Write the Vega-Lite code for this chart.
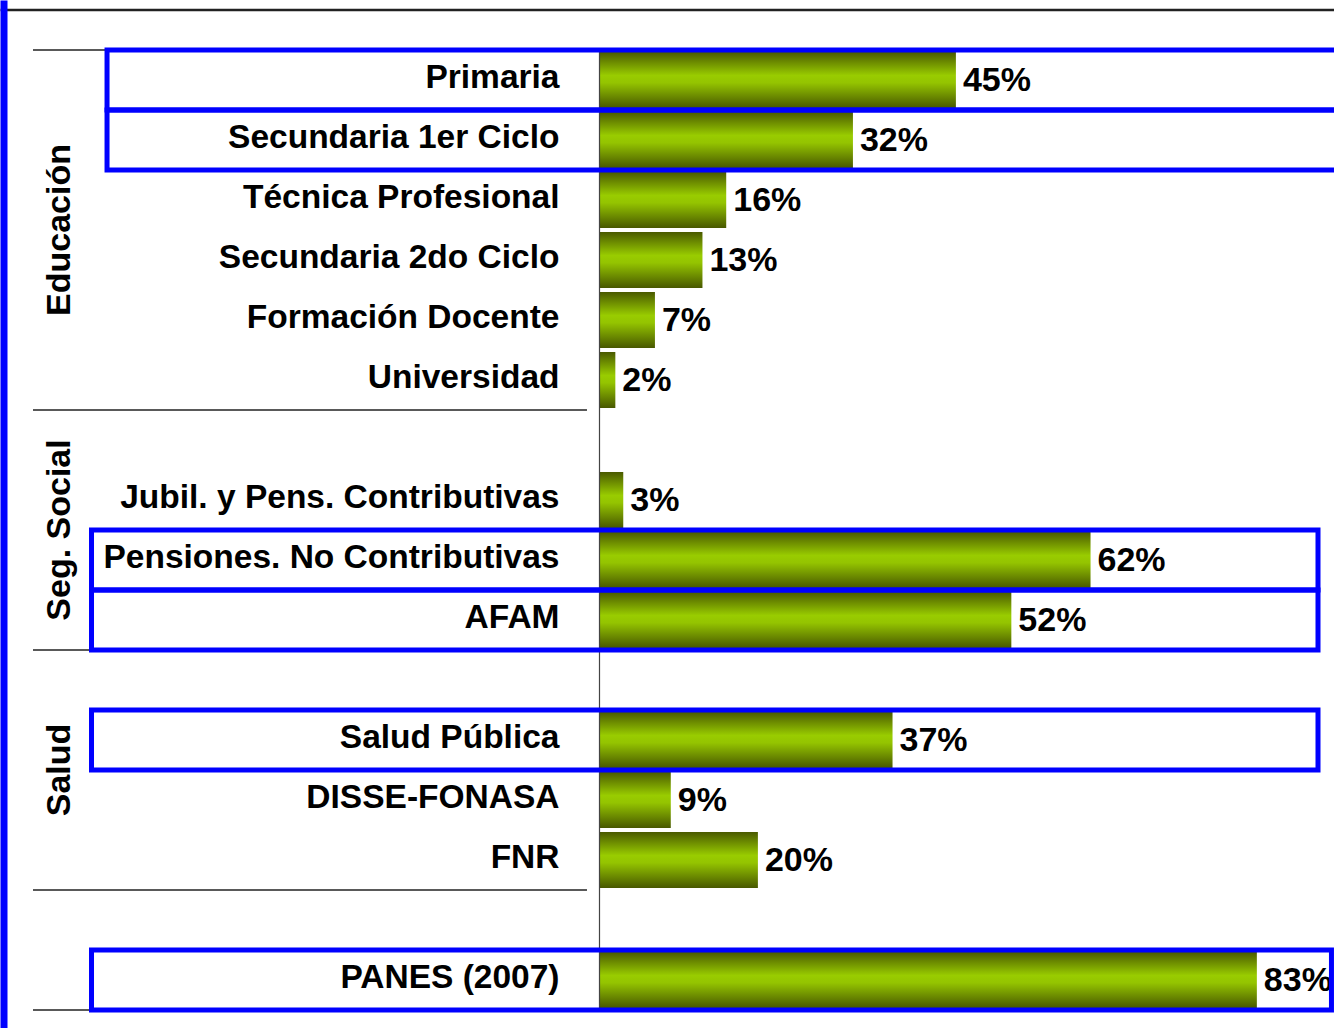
{
  "$schema": "https://vega.github.io/schema/vega-lite/v6.json",
  "width": 1334,
  "height": 1028,
  "autosize": {"type": "none"},
  "padding": 0,
  "background": "white",
  "config": {"view": {"stroke": null}},
  "data": {
    "values": [
      {"categoria": "Primaria", "grupo": "Educación", "valor": 0.45, "destacado": true},
      {"categoria": "Secundaria 1er Ciclo", "grupo": "Educación", "valor": 0.32, "destacado": true},
      {"categoria": "Técnica Profesional", "grupo": "Educación", "valor": 0.16, "destacado": false},
      {"categoria": "Secundaria 2do Ciclo", "grupo": "Educación", "valor": 0.13, "destacado": false},
      {"categoria": "Formación Docente", "grupo": "Educación", "valor": 0.07, "destacado": false},
      {"categoria": "Universidad", "grupo": "Educación", "valor": 0.02, "destacado": false},
      {"categoria": "Jubil. y Pens. Contributivas", "grupo": "Seg. Social", "valor": 0.03, "destacado": false},
      {"categoria": "Pensiones. No Contributivas", "grupo": "Seg. Social", "valor": 0.62, "destacado": true},
      {"categoria": "AFAM", "grupo": "Seg. Social", "valor": 0.52, "destacado": true},
      {"categoria": "Salud Pública", "grupo": "Salud", "valor": 0.37, "destacado": true},
      {"categoria": "DISSE-FONASA", "grupo": "Salud", "valor": 0.09, "destacado": false},
      {"categoria": "FNR", "grupo": "Salud", "valor": 0.20, "destacado": false},
      {"categoria": "PANES (2007)", "grupo": "PANES", "valor": 0.83, "destacado": true}
    ]
  },
  "layer": [
    {
      "mark": {
        "type": "bar",
        "height": {"band": 0.933},
        "color": {
          "gradient": "linear", "x1": 0, "y1": 0, "x2": 0, "y2": 1,
          "stops": [
            {"offset": 0, "color": "#4a5a00"},
            {"offset": 0.42, "color": "#99cc00"},
            {"offset": 0.55, "color": "#94c400"},
            {"offset": 1, "color": "#485800"}
          ]
        }
      },
      "encoding": {
        "x": {
          "field": "valor", "type": "quantitative",
          "scale": {"domain": [-0.75694, 0.9274], "nice": false, "zero": false},
          "axis": {"orient": "top", "offset": -9.5, "domain": true, "domainColor": "#222222", "domainWidth": 2.5, "labels": false, "ticks": false, "grid": false, "title": null}
        },
        "y": {
          "field": "categoria", "type": "nominal",
          "scale": {
            "type": "band",
            "domain": ["Primaria", "Secundaria 1er Ciclo", "Técnica Profesional", "Secundaria 2do Ciclo", "Formación Docente", "Universidad", "sep1", "Jubil. y Pens. Contributivas", "Pensiones. No Contributivas", "AFAM", "sep2", "Salud Pública", "DISSE-FONASA", "FNR", "sep3", "PANES (2007)"],
            "paddingInner": 0, "paddingOuter": 0.5667, "align": 0.735
          },
          "axis": {"orient": "left", "offset": -3.5, "domain": true, "domainColor": "#0000ff", "domainWidth": 7, "labels": false, "ticks": false, "grid": false, "title": null}
        }
      }
    },
    {
      "mark": {"type": "text", "align": "left", "baseline": "middle", "dx": 7, "dy": 1, "font": "Liberation Sans", "fontSize": 34, "fontWeight": "bold", "color": "#000000"},
      "encoding": {
        "x": {"field": "valor", "type": "quantitative", "axis": {"orient": "top", "offset": -9.5, "domain": true, "domainColor": "#222222", "domainWidth": 2.5, "labels": false, "ticks": false, "grid": false, "title": null}},
        "y": {"field": "categoria", "type": "nominal", "axis": {"orient": "left", "offset": -3.5, "domain": true, "domainColor": "#0000ff", "domainWidth": 7, "labels": false, "ticks": false, "grid": false, "title": null}},
        "text": {"field": "valor", "type": "quantitative", "format": ".0%"}
      }
    },
    {
      "mark": {"type": "text", "align": "right", "baseline": "middle", "dy": -2, "font": "Liberation Sans", "fontSize": 33.5, "fontWeight": "bold", "color": "#000000"},
      "encoding": {
        "x": {"datum": -0.0505, "type": "quantitative", "axis": {"orient": "top", "offset": -9.5, "domain": true, "domainColor": "#222222", "domainWidth": 2.5, "labels": false, "ticks": false, "grid": false, "title": null}},
        "y": {"field": "categoria", "type": "nominal", "axis": {"orient": "left", "offset": -3.5, "domain": true, "domainColor": "#0000ff", "domainWidth": 7, "labels": false, "ticks": false, "grid": false, "title": null}},
        "text": {"field": "categoria", "type": "nominal"}
      }
    },
    {
      "transform": [{"filter": {"field": "categoria", "oneOf": ["Técnica Profesional", "Jubil. y Pens. Contributivas", "Salud Pública"]}}],
      "mark": {"type": "text", "align": "center", "baseline": "middle", "angle": 270, "font": "Liberation Sans", "fontSize": 34, "fontWeight": "bold", "color": "#000000"},
      "encoding": {
        "x": {"datum": -0.6812, "type": "quantitative", "axis": {"orient": "top", "offset": -9.5, "domain": true, "domainColor": "#222222", "domainWidth": 2.5, "labels": false, "ticks": false, "grid": false, "title": null}},
        "y": {"field": "categoria", "type": "nominal", "bandPosition": 1, "axis": {"orient": "left", "offset": -3.5, "domain": true, "domainColor": "#0000ff", "domainWidth": 7, "labels": false, "ticks": false, "grid": false, "title": null}},
        "text": {"field": "grupo", "type": "nominal"}
      }
    },
    {
      "transform": [{"filter": {"field": "categoria", "oneOf": ["Universidad", "AFAM", "FNR", "PANES (2007)"]}}],
      "mark": {"type": "rule", "color": "#222222", "strokeWidth": 1.3},
      "encoding": {
        "x": {"datum": -0.7153, "type": "quantitative", "axis": {"orient": "top", "offset": -9.5, "domain": true, "domainColor": "#222222", "domainWidth": 2.5, "labels": false, "ticks": false, "grid": false, "title": null}},
        "x2": {"datum": -0.0158},
        "y": {"field": "categoria", "type": "nominal", "bandPosition": 1, "axis": {"orient": "left", "offset": -3.5, "domain": true, "domainColor": "#0000ff", "domainWidth": 7, "labels": false, "ticks": false, "grid": false, "title": null}}
      }
    },
    {
      "transform": [{"filter": {"field": "categoria", "equal": "Primaria"}}],
      "mark": {"type": "rule", "color": "#222222", "strokeWidth": 1.3},
      "encoding": {
        "x": {"datum": -0.7153, "type": "quantitative", "axis": {"orient": "top", "offset": -9.5, "domain": true, "domainColor": "#222222", "domainWidth": 2.5, "labels": false, "ticks": false, "grid": false, "title": null}},
        "x2": {"datum": -0.0158},
        "y": {"field": "categoria", "type": "nominal", "bandPosition": 0, "axis": {"orient": "left", "offset": -3.5, "domain": true, "domainColor": "#0000ff", "domainWidth": 7, "labels": false, "ticks": false, "grid": false, "title": null}}
      }
    },
    {
      "transform": [{"filter": {"field": "categoria", "equal": "Primaria"}}],
      "mark": {"type": "rule", "color": "#444444", "strokeWidth": 1.2},
      "encoding": {
        "x": {"datum": 0, "type": "quantitative", "axis": {"orient": "top", "offset": -9.5, "domain": true, "domainColor": "#222222", "domainWidth": 2.5, "labels": false, "ticks": false, "grid": false, "title": null}},
        "y": {"datum": "Primaria", "type": "nominal", "bandPosition": 0, "axis": {"orient": "left", "offset": -3.5, "domain": true, "domainColor": "#0000ff", "domainWidth": 7, "labels": false, "ticks": false, "grid": false, "title": null}},
        "y2": {"datum": "PANES (2007)", "bandPosition": 1}
      }
    },
    {
      "transform": [{"filter": "datum.destacado && datum.grupo == 'Educación'"}],
      "mark": {"type": "rect", "fill": "transparent", "stroke": "#0000ff", "strokeWidth": 5},
      "encoding": {
        "x": {"datum": -0.6218, "type": "quantitative", "axis": {"orient": "top", "offset": -9.5, "domain": true, "domainColor": "#222222", "domainWidth": 2.5, "labels": false, "ticks": false, "grid": false, "title": null}},
        "x2": {"datum": 0.935},
        "y": {"field": "categoria", "type": "nominal", "axis": {"orient": "left", "offset": -3.5, "domain": true, "domainColor": "#0000ff", "domainWidth": 7, "labels": false, "ticks": false, "grid": false, "title": null}}
      }
    },
    {
      "transform": [{"filter": "datum.destacado && (datum.grupo == 'Seg. Social' || datum.grupo == 'Salud')"}],
      "mark": {"type": "rect", "fill": "transparent", "stroke": "#0000ff", "strokeWidth": 5},
      "encoding": {
        "x": {"datum": -0.6414, "type": "quantitative", "axis": {"orient": "top", "offset": -9.5, "domain": true, "domainColor": "#222222", "domainWidth": 2.5, "labels": false, "ticks": false, "grid": false, "title": null}},
        "x2": {"datum": 0.9072},
        "y": {"field": "categoria", "type": "nominal", "axis": {"orient": "left", "offset": -3.5, "domain": true, "domainColor": "#0000ff", "domainWidth": 7, "labels": false, "ticks": false, "grid": false, "title": null}}
      }
    },
    {
      "transform": [{"filter": "datum.destacado && datum.grupo == 'PANES'"}],
      "mark": {"type": "rect", "fill": "transparent", "stroke": "#0000ff", "strokeWidth": 5},
      "encoding": {
        "x": {"datum": -0.6414, "type": "quantitative", "axis": {"orient": "top", "offset": -9.5, "domain": true, "domainColor": "#222222", "domainWidth": 2.5, "labels": false, "ticks": false, "grid": false, "title": null}},
        "x2": {"datum": 0.9242},
        "y": {"field": "categoria", "type": "nominal", "axis": {"orient": "left", "offset": -3.5, "domain": true, "domainColor": "#0000ff", "domainWidth": 7, "labels": false, "ticks": false, "grid": false, "title": null}}
      }
    }
  ]
}
